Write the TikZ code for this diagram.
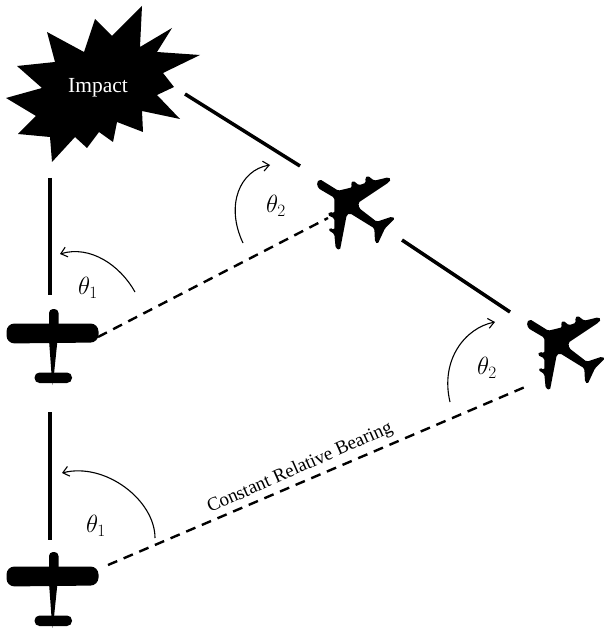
\documentclass[tikz,border=0pt]{standalone}
\usepackage{fontspec}
\setmainfont{Liberation Serif}
\usepackage{amsmath, amssymb}
\usetikzlibrary{arrows.meta}
\usetikzlibrary{calc}
\tikzset{
    prop_plane/.pic={
        \fill[rounded corners=8pt] (-45.5,-6.5) -- (-45.5,13.5) -- (46.5,12.5) -- (46.5,-6.5) -- cycle;
        \fill[rounded corners=4pt] (-3,-21) -- (-3,0) -- (6.5,0) -- (6.5,-21) -- cycle;
        \fill (-3,10) -- (-0.5,44) -- (0.7,55) -- (2,44) -- (5.5,10) -- cycle;
        \fill[rounded corners=5pt] (-17.5,42.5) rectangle (20,53);
    },
    jet_plane/.pic={
        \fill[rounded corners=1.5pt] (-38.3,-27.3) -- (-35,-30.7) -- (-16.7,-19.3) -- (-2.7,-22.7) -- (-4.3,-26.7) -- (-1.7,-29.3) -- (4,-24.7) -- (11,-27.3) -- (10,-31.7) -- (12.7,-34.3) -- (19.3,-29.3) -- (33.3,-32.7) -- (36,-30.7) -- (33.3,-27.3) -- (3.3,-7.3) -- (4.3,-1.7) -- (21.7,11.7) -- (36.7,6.7) -- (40,8.3) -- (30,18.3) -- (22.7,34) -- (20,31.7) -- (19.3,18.3) -- (-5,3.3) -- (-8.3,5) -- (-15,40) -- (-19.3,38.3) -- (-20.7,24) -- (-26.7,20) -- (-25,17.7) -- (-20.7,20) -- (-20.7,8.3) -- (-27.3,5) -- (-25.3,1.7) -- (-20.7,3.3) -- (-20.7,-12.3) -- (-36.7,-21.7) -- cycle;
    }
}
\begin{document}
\begin{tikzpicture}[x=1pt, y=-1pt,
        solid_line/.style={draw=black, line width=3.5pt},
        dash_line/.style={draw=black, line width=2.4pt, dash pattern=on 10pt off 7pt},
        angle_arc/.style={draw=black, line width=1.1pt, -{Straight Barb[length=6pt,width=10pt]}},
        angle_label/.style={font=\fontsize{24}{26}\selectfont},
        burst_label/.style={font=\fontsize{21.5}{24}\selectfont, text=white},
        bearing_label/.style={font=\fontsize{19}{21}\selectfont, rotate=24}]

        \useasboundingbox (0,0) rectangle (605,628);

        % burst
        \fill (200,55) -- (163,73) -- (174,87) -- (157,95) -- (180,119) -- (142,111) -- (143,132) -- (117,122) -- (113,142) -- (99,132) -- (87,148) -- (75,137) -- (52,162) -- (50,137) -- (18,134) -- (36,116) -- (6,98) -- (42,88) -- (17,66) -- (55,62) -- (47,32) -- (84,52) -- (95,19) -- (112,36) -- (142,6) -- (140,47) -- (172,28) -- (157,52) -- cycle;
        \node [burst_label](impact) at (98,88) {Impact};

        % planes
        \pic at (52,330) {prop_plane};
        \pic at (52,573) {prop_plane};
        \pic at (355,210) {jet_plane};
        \pic at (565,350) {jet_plane};

        % ends of the lines
        \coordinate (a1) at (50,178);
        \coordinate (a2) at (50,295);
        \coordinate (b1) at (50,412);
        \coordinate (b2) at (50,540);
        \coordinate (c1) at (185,94);
        \coordinate (c2) at (300,166);
        \coordinate (d1) at (402,240);
        \coordinate (d2) at (510,312);
        \coordinate (e1) at (98,337);
        \coordinate (e2) at (328,218);
        \coordinate (f1) at (108,565);
        \coordinate (f2) at (525,387);

        \draw [solid_line] (a1) -- (a2);
        \draw [solid_line] (b1) -- (b2);
        \draw [solid_line] (c1) -- (c2);
        \draw [solid_line] (d1) -- (d2);
        \draw [dash_line] (e1) -- (e2);
        \draw [dash_line] (f1) -- (f2);

        % angles
        \coordinate (g1) at (135,292);
        \coordinate (g2) at (60,254);
        \coordinate (h1) at (155,538);
        \coordinate (h2) at (62,473);
        \coordinate (i1) at (243,243);
        \coordinate (i2) at (270,165);
        \coordinate (j1) at (450,402);
        \coordinate (j2) at (495,322);

        \draw [angle_arc] (g1) .. controls (120,265) and (90,245) .. (g2);
        \draw [angle_arc] (h1) .. controls (155,500) and (105,462) .. (h2);
        \draw [angle_arc] (i1) .. controls (225,205) and (240,170) .. (i2);
        \draw [angle_arc] (j1) .. controls (440,360) and (465,328) .. (j2);

        \node [angle_label](t1) at (88,288) {$\theta_1$};
        \node [angle_label](t2) at (96,526) {$\theta_1$};
        \node [angle_label](t3) at (276,206) {$\theta_2$};
        \node [angle_label](t4) at (487,368) {$\theta_2$};

        \node [bearing_label](bearing) at (300,468) {Constant Relative Bearing};
\end{tikzpicture}
\end{document}
